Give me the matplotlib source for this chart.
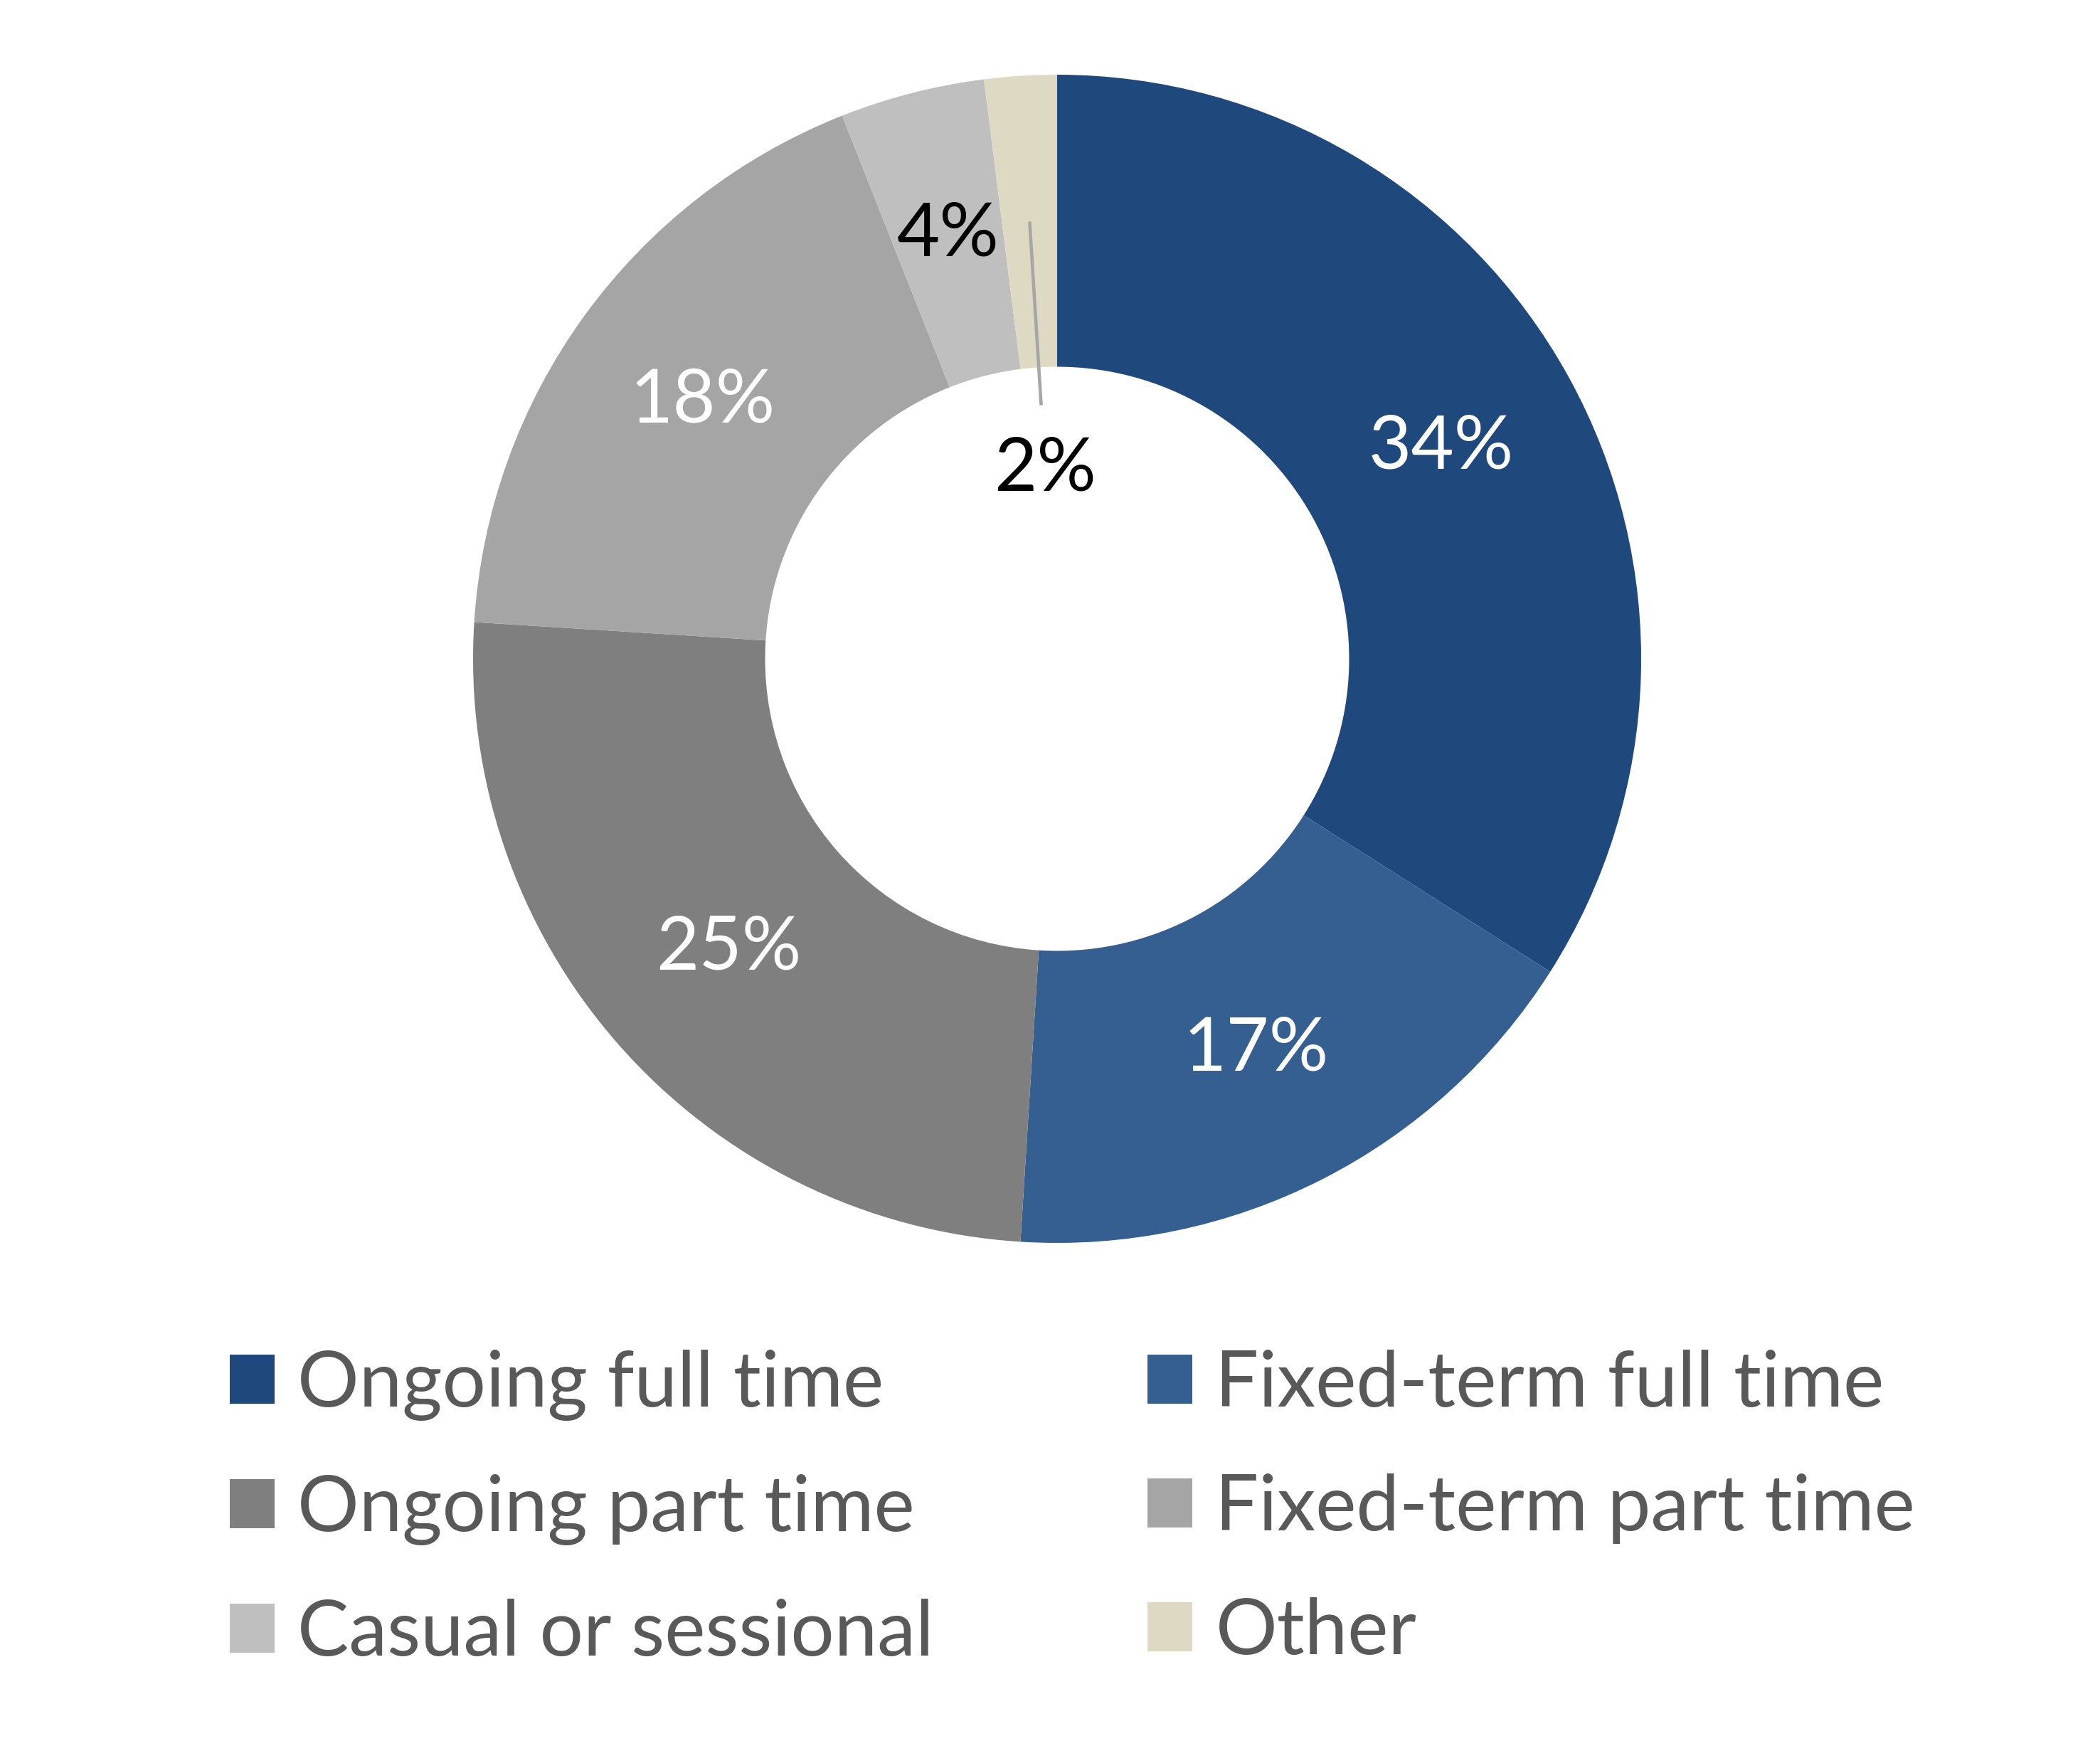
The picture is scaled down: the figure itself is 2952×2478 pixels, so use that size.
import numpy as np
import matplotlib.pyplot as plt
from matplotlib.patches import Patch

# data
labels = ["Ongoing full time", "Fixed-term full time", "Ongoing part time",
          "Fixed-term part time", "Casual or sessional", "Other"]
shares = [34, 17, 25, 18, 4, 2]
colors = ["#1F497D", "#365F91", "#7F7F7F", "#A5A5A5", "#BFBFBF", "#DDD9C3"]
label_colors = ["white", "white", "white", "white", "black", "black"]

plt.rcParams['font.family'] = ['Lato', 'DejaVu Sans']

W, H = 2952, 2478
fig = plt.figure(figsize=(W / 300, H / 300), dpi=300)
ax = fig.add_axes([0, 0, 1, 1])

cx, cy, R = 1486, H - 926, 821
wedges, _ = ax.pie(shares, colors=colors, startangle=90, counterclock=False,
                   radius=R, center=(cx, cy),
                   wedgeprops=dict(width=R * 0.5, linewidth=0),
                   frame=True)
ax.set_xlim(0, W)
ax.set_ylim(0, H)
ax.axis('off')

# percentage labels
for i, v in enumerate(shares):
    mid = np.deg2rad(90.0 - 360 * (sum(shares[:i]) + v / 2) / sum(shares))
    if i == len(shares) - 1:
        # small slice: leader line into the hole
        p0 = 0.75 * R
        p1 = 0.435 * R
        ax.plot([cx + p0 * np.cos(mid), cx + p1 * np.cos(mid)],
                [cy + p0 * np.sin(mid), cy + p1 * np.sin(mid)],
                color="#A6A6A6", lw=1.1, solid_capstyle='butt')
        r = 0.325 * R
    else:
        r = 0.75 * R
    ax.text(cx + r * np.cos(mid), cy + r * np.sin(mid), f"{v}%",
            ha='center', va='center', fontsize=25, color=label_colors[i])

# legend, row-wise order
order = [0, 2, 4, 1, 3, 5]
handles = [Patch(facecolor=colors[i], linewidth=0) for i in order]
leg = ax.legend(handles, [labels[i] for i in order], ncol=2, frameon=False,
                loc='upper left', bbox_to_anchor=(323 / W, 1 - 1897 / H),
                fontsize=26, handlelength=0.58, handleheight=0.6,
                handletextpad=0.3, columnspacing=2.77, labelspacing=0.69,
                borderpad=0, borderaxespad=0)
for t in leg.get_texts():
    t.set_color("#595959")

fig.savefig("out.png", dpi=300, facecolor='white')
